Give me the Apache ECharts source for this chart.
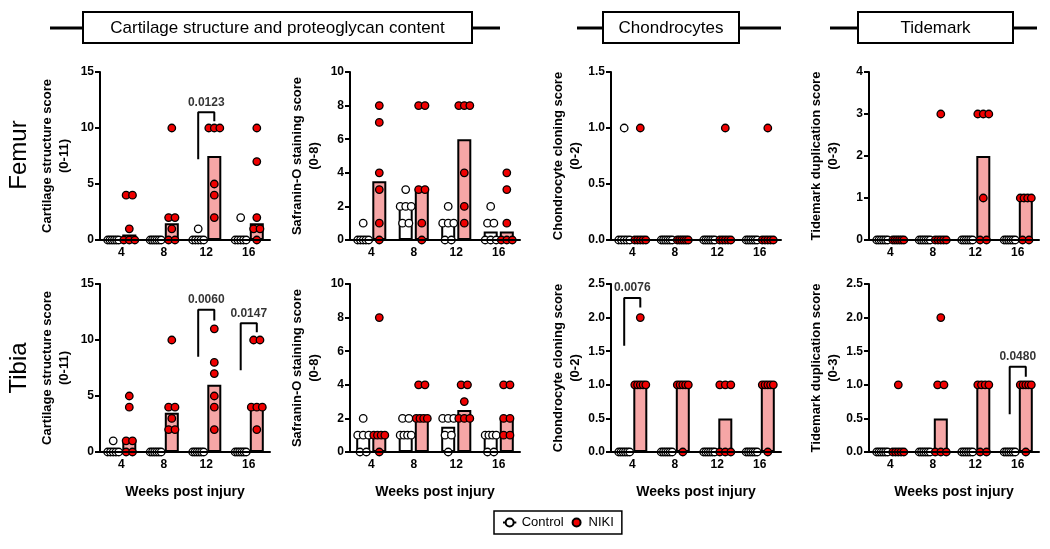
<!DOCTYPE html>
<html>
<head>
<meta charset="utf-8">
<script src="https://cdn.jsdelivr.net/npm/echarts@6/dist/echarts.min.js"></script>
<style>
  html, body { margin: 0; padding: 0; background: #fff; }
  #chart { width: 1050px; height: 549px; }
</style>
</head>
<body>
<div id="chart"></div>
<script>
// ---------------- DATA ----------------
const weeks = ['4', '8', '12', '16'];
const groups = ['Control', 'NIKI'];
const headers = ['Cartilage structure and proteoglycan content', 'Chondrocytes', 'Tidemark'];
const rowNames = ['Femur', 'Tibia'];

// Individual scores per week (4, 8, 12, 16)
const femurCartCtrl = [[0,0,0,0,0,0],[0,0,0,0,0,0],[1,0,0,0,0,0],[2,0,0,0,0,0]];
const femurCartNiki = [[4,4,1,0,0,0],[10,2,2,1,0,0],[10,10,10,5,4,2],[10,7,2,1,1,0]];
const femurSafoCtrl = [[1,0,0,0,0,0],[3,2,2,2,1,1],[2,1,1,1,0,0],[2,1,1,0,0,0]];
const femurSafoNiki = [[8,7,4,3,1,0],[8,8,3,3,1,0],[8,8,8,4,2,1],[4,3,1,0,0,0]];
const femurChonCtrl = [[1,0,0,0,0,0],[0,0,0,0,0,0],[0,0,0,0,0,0],[0,0,0,0,0,0]];
const femurChonNiki = [[1,0,0,0,0,0],[0,0,0,0,0,0],[1,0,0,0,0,0],[1,0,0,0,0,0]];
const femurTideCtrl = [[0,0,0,0,0,0],[0,0,0,0,0,0],[0,0,0,0,0,0],[0,0,0,0,0,0]];
const femurTideNiki = [[0,0,0,0,0,0],[3,0,0,0,0,0],[3,3,3,1,0,0],[1,1,1,1,0,0]];

const tibiaCartCtrl = [[1,0,0,0,0,0],[0,0,0,0,0,0],[0,0,0,0,0,0],[0,0,0,0,0,0]];
const tibiaCartNiki = [[5,4,1,1,0,0],[10,4,4,3,2,2],[11,8,7,5,4,2],[10,10,4,4,4,2]];
const tibiaSafoCtrl = [[2,1,1,1,0,0],[2,2,1,1,1,1],[2,2,2,1,1,0],[1,1,1,1,0,0]];
const tibiaSafoNiki = [[8,1,1,1,1,0],[4,4,2,2,2,2],[4,4,3,2,2,2],[4,4,2,2,1,1]];
const tibiaChonCtrl = [[0,0,0,0,0,0],[0,0,0,0,0,0],[0,0,0,0,0,0],[0,0,0,0,0,0]];
const tibiaChonNiki = [[2,1,1,1,1,1],[1,1,1,1,1,0],[1,1,1,0,0,0],[1,1,1,1,1,0]];
const tibiaTideCtrl = [[0,0,0,0,0,0],[0,0,0,0,0,0],[0,0,0,0,0,0],[0,0,0,0,0,0]];
const tibiaTideNiki = [[1,0,0,0,0,0],[2,1,1,0,0,0],[1,1,1,1,0,0],[1,1,1,1,1,0]];

// Axis settings per panel
const yNames = ['Cartilage structure score\n(0-11)', 'Safranin-O staining score\n(0-8)',
                'Chondrocyte cloning score\n(0-2)', 'Tidemark duplication score\n(0-3)'];
const yMaxFemur = [15, 10, 1.5, 4];
const yMaxTibia = [15, 10, 2.5, 2.5];
const yStepFemur = [5, 2, 0.5, 1];
const yStepTibia = [5, 2, 0.5, 0.5];
const yDecimals = [0, 0, 1, 1];
const yDecimalsFemur = [0, 0, 1, 0];

// Significance (p values): panel index, week index, text, bracket top, left leg end, right leg end
const pValues = ['0.0123', '0.0060', '0.0147', '0.0076', '0.0480'];
const pPanel = [0, 4, 4, 6, 7];
const pWeek = [2, 2, 3, 0, 3];
const pTop = [11.4, 12.7, 11.5, 2.29, 1.27];
const pLeftEnd = [7.2, 8.5, 7.3, 1.58, 0.56];
const pRightEnd = [10.6, 11.75, 10.7, 2.15, 1.12];

// ---------------- LAYOUT ----------------
const colLeft = [100, 350, 611, 869];
const rowTop = [72, 284];
const GRID_W = 170, GRID_H = 168;
const BAR_W = 14, BAR_GAP = 0.15;
const FONT = '"Liberation Sans", Arial, Helvetica, sans-serif';
const RED = '#f00000';
const PINK = '#f6a6a6';

const panels = [
  [femurCartCtrl, femurCartNiki], [femurSafoCtrl, femurSafoNiki], [femurChonCtrl, femurChonNiki], [femurTideCtrl, femurTideNiki],
  [tibiaCartCtrl, tibiaCartNiki], [tibiaSafoCtrl, tibiaSafoNiki], [tibiaChonCtrl, tibiaChonNiki], [tibiaTideCtrl, tibiaTideNiki]
];

function median(arr) {
  const s = arr.slice().sort((a, b) => a - b);
  const n = s.length;
  return n % 2 ? s[(n - 1) / 2] : (s[n / 2 - 1] + s[n / 2]) / 2;
}

const catW = GRID_W / weeks.length;
const groupOffset = (BAR_W * (1 + BAR_GAP) / 2) / catW; // in category units

// simple beeswarm: identical values spread side by side
function swarm(values, center) {
  const counts = {};
  values.forEach(v => { counts[v] = (counts[v] || 0) + 1; });
  const seen = {};
  const pts = [];
  values.forEach(v => {
    const k = counts[v];
    const j = seen[v] || 0;
    seen[v] = j + 1;
    const step = k > 1 ? Math.min(0.15, 0.26 / (k - 1)) : 0;
    pts.push([center + (j - (k - 1) / 2) * step, v]);
  });
  return pts;
}

const grid = [], xAxis = [], yAxis = [], series = [];

panels.forEach((p, k) => {
  const row = Math.floor(k / 4), col = k % 4;
  const yMax = row === 0 ? yMaxFemur[col] : yMaxTibia[col];
  const yStep = row === 0 ? yStepFemur[col] : yStepTibia[col];
  const dec = row === 0 ? yDecimalsFemur[col] : yDecimals[col];
  grid.push({ left: colLeft[col], top: rowTop[row], width: GRID_W, height: GRID_H,
              containLabel: false, outerBoundsMode: 'none' });
  xAxis.push({
    type: 'category', gridIndex: k, data: weeks,
    name: row === 1 ? 'Weeks post injury' : '',
    nameLocation: 'middle', nameGap: 33,
    nameTextStyle: { fontFamily: FONT, fontWeight: 'bold', fontSize: 14, color: '#000' },
    axisLine: { onZero: false, lineStyle: { color: '#000', width: 2 } },
    axisTick: { alignWithLabel: true, length: 5, lineStyle: { width: 2, color: '#000' } },
    axisLabel: { fontFamily: FONT, fontWeight: 'bold', fontSize: 12, color: '#000', margin: 7 },
    z: 5
  });
  xAxis.push({ type: 'value', gridIndex: k, min: -0.5, max: weeks.length - 0.5, show: false,
               axisLine: { onZero: false } });
  yAxis.push({
    type: 'value', gridIndex: k, min: 0, max: yMax, interval: yStep,
    name: yNames[col], nameLocation: 'middle', nameGap: 27,
    nameTextStyle: { fontFamily: FONT, fontWeight: 'bold', fontSize: 13, color: '#000', lineHeight: 17 },
    axisLine: { show: true, onZero: false, lineStyle: { color: '#000', width: 2 } },
    axisTick: { show: true, length: 5, lineStyle: { width: 2, color: '#000' } },
    axisLabel: { fontFamily: FONT, fontWeight: 'bold', fontSize: 12, color: '#000', margin: 6,
                 formatter: v => v.toFixed(dec) },
    splitLine: { show: false },
    z: 5
  });
  // bars = medians
  series.push({
    type: 'bar', name: 'Control median', xAxisIndex: 2 * k, yAxisIndex: k,
    data: p[0].map(median), barWidth: BAR_W, barGap: (BAR_GAP * 100) + '%',
    itemStyle: { color: '#ffffff', borderColor: '#000', borderWidth: 2 },
    silent: true, z: 2
  });
  series.push({
    type: 'bar', name: 'NIKI median', xAxisIndex: 2 * k, yAxisIndex: k,
    data: p[1].map(median), barWidth: BAR_W,
    itemStyle: { color: PINK, borderColor: '#000', borderWidth: 2 },
    silent: true, z: 2
  });
  // individual points
  const ctrlPts = [], nikiPts = [];
  weeks.forEach((w, i) => {
    swarm(p[0][i], i - groupOffset).forEach(pt => ctrlPts.push(pt));
    swarm(p[1][i], i + groupOffset).forEach(pt => nikiPts.push(pt));
  });
  series.push({
    type: 'scatter', name: 'Control', xAxisIndex: 2 * k + 1, yAxisIndex: k,
    data: ctrlPts, symbolSize: 7.5,
    itemStyle: { color: '#ffffff', borderColor: '#000', borderWidth: 1.3, opacity: 1 }, z: 4
  });
  series.push({
    type: 'scatter', name: 'NIKI', xAxisIndex: 2 * k + 1, yAxisIndex: k,
    data: nikiPts, symbolSize: 7.5,
    itemStyle: { color: RED, borderColor: '#000', borderWidth: 1.3, opacity: 1 }, z: 4
  });
});

// significance brackets
pValues.forEach((txt, b) => {
  const k = pPanel[b], i = pWeek[b];
  const xl = i - groupOffset, xr = i + groupOffset;
  series.push({
    type: 'line', xAxisIndex: 2 * k + 1, yAxisIndex: k, silent: true,
    data: [[xl, pLeftEnd[b]], [xl, pTop[b]], [xr, pTop[b]], [xr, pRightEnd[b]]],
    symbol: 'none', lineStyle: { color: '#000', width: 2 }, z: 6
  });
  series.push({
    type: 'scatter', xAxisIndex: 2 * k + 1, yAxisIndex: k, silent: true,
    data: [[i, pTop[b]]], symbolSize: 0,
    label: { show: true, formatter: txt, position: 'top', distance: 4,
             fontFamily: FONT, fontWeight: 'bold', fontSize: 12, color: '#000' }, z: 6
  });
});

// ---------------- HEADERS ----------------
const hdrBox = [[83, 472], [603, 739], [858, 1013]];
const hdrLine = [[50, 500], [577, 781], [830, 1037]];
const graphics = [];
headers.forEach((h, i) => {
  graphics.push({ type: 'line', shape: { x1: hdrLine[i][0], y1: 28, x2: hdrBox[i][0], y2: 28 },
                  style: { stroke: '#000', lineWidth: 3 } });
  graphics.push({ type: 'line', shape: { x1: hdrBox[i][1], y1: 28, x2: hdrLine[i][1], y2: 28 },
                  style: { stroke: '#000', lineWidth: 3 } });
  graphics.push({ type: 'rect', shape: { x: hdrBox[i][0], y: 12, width: hdrBox[i][1] - hdrBox[i][0], height: 31 },
                  style: { fill: '#fff', stroke: '#000', lineWidth: 2 } });
  graphics.push({ type: 'text', x: (hdrBox[i][0] + hdrBox[i][1]) / 2, y: 28,
                  style: { text: h, fontFamily: FONT, fontSize: 17, fill: '#000', textAlign: 'center', textVerticalAlign: 'middle' } });
});
const rowLabelY = [155, 368];
rowNames.forEach((r, i) => {
  graphics.push({ type: 'text', x: 19, y: rowLabelY[i], rotation: Math.PI / 2,
                  style: { text: r, fontFamily: FONT, fontSize: 24, fill: '#000', textAlign: 'center', textVerticalAlign: 'middle' } });
});

const chart = echarts.init(document.getElementById('chart'), null, { renderer: 'canvas' });
chart.setOption({
  animation: false,
  backgroundColor: '#fff',
  grid, xAxis, yAxis, series,
  graphic: graphics,
  legend: {
    data: [
      { name: 'Control', icon: 'path://M0,5L2,5M8,5L10,5M8,5A3,3,0,1,1,2,5A3,3,0,1,1,8,5Z' },
      { name: 'NIKI', icon: 'circle' }
    ],
    left: 494, top: 511,
    itemWidth: 14, itemHeight: 8, itemGap: 8,
    borderColor: '#000', borderWidth: 1.5, borderRadius: 0,
    padding: [5, 8, 5, 8],
    textStyle: { fontFamily: FONT, fontSize: 13, color: '#000' }
  }
});
</script>
</body>
</html>
